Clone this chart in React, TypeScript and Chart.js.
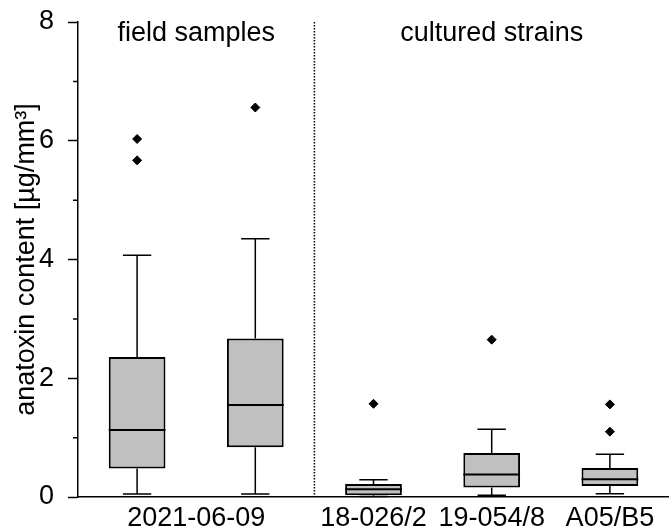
import React, { useEffect, useRef } from 'react';
import { Chart, registerables } from 'chart.js';

Chart.register(...registerables);

// ---- data ----
const categories = ['2021-06-09', '18-026/2', '19-054/8', 'A05/B5'];
const categoryTickPositions = [0.5, 2, 3, 4];
const boxPositions = [0, 1, 2, 3, 4];
const mins = [0.05, 0.05, 0.01, 0.03, 0.055];
const q1s = [0.48, 0.84, 0.03, 0.16, 0.185];
const medians = [1.13, 1.55, 0.13, 0.38, 0.3];
const q3s = [2.36, 2.67, 0.22, 0.74, 0.49];
const maxs = [4.07, 4.35, 0.29, 1.14, 0.72];
const outliers = [[5.67, 6.03], [6.56], [1.57], [2.65], [1.1, 1.56]];
const groupLabels = ['field samples', 'cultured strains'];
const groupPositions = [0.5, 3];
const dividerPosition = 1.5;
const yMin = 0;
const yMax = 8;
const yTitle = 'anatoxin content [µg/mm³]';

const FONT_FAMILY = '"Liberation Sans", Arial, Helvetica, sans-serif';
const FONT_SIZE = 27;

const boxExtras = {
  id: 'boxExtras',
  afterDatasetsDraw(chart: any) {
    const { ctx, chartArea, scales } = chart;
    const x = scales.x;
    const y = scales.y;
    const meta = chart.getDatasetMeta(0);
    ctx.save();
    ctx.strokeStyle = '#000';
    boxPositions.forEach((p, i) => {
      const cx = x.getPixelForValue(p);
      const el = meta.data[i];
      const w = el ? el.width : 56;
      const cap = w / 2;
      ctx.lineWidth = 1.5;
      ctx.beginPath();
      ctx.moveTo(cx, y.getPixelForValue(q3s[i]));
      ctx.lineTo(cx, y.getPixelForValue(maxs[i]));
      ctx.moveTo(cx - cap / 2, y.getPixelForValue(maxs[i]));
      ctx.lineTo(cx + cap / 2, y.getPixelForValue(maxs[i]));
      ctx.moveTo(cx, y.getPixelForValue(q1s[i]));
      ctx.lineTo(cx, y.getPixelForValue(mins[i]));
      ctx.moveTo(cx - cap / 2, y.getPixelForValue(mins[i]));
      ctx.lineTo(cx + cap / 2, y.getPixelForValue(mins[i]));
      ctx.stroke();
      ctx.lineWidth = 2;
      ctx.beginPath();
      ctx.moveTo(cx - w / 2, y.getPixelForValue(medians[i]));
      ctx.lineTo(cx + w / 2, y.getPixelForValue(medians[i]));
      ctx.stroke();
    });
    // divider
    const dx = x.getPixelForValue(dividerPosition);
    ctx.lineWidth = 1.5;
    ctx.setLineDash([1.5, 1.5]);
    ctx.beginPath();
    ctx.moveTo(dx, chartArea.top);
    ctx.lineTo(dx, chartArea.bottom);
    ctx.stroke();
    ctx.setLineDash([]);
    // minor y ticks
    ctx.lineWidth = 1.5;
    ctx.beginPath();
    for (let v = yMin + 1; v < yMax; v += 2) {
      const py = y.getPixelForValue(v);
      ctx.moveTo(chartArea.left - 5, py);
      ctx.lineTo(chartArea.left, py);
    }
    ctx.stroke();
    // group labels
    ctx.fillStyle = '#000';
    ctx.font = `${FONT_SIZE}px ${FONT_FAMILY}`;
    ctx.textAlign = 'center';
    ctx.textBaseline = 'middle';
    groupLabels.forEach((t, i) => {
      ctx.fillText(t, x.getPixelForValue(groupPositions[i]), chartArea.top + 12);
    });
    ctx.restore();
  },
};

export default function App() {
  const ref = useRef<HTMLCanvasElement | null>(null);
  useEffect(() => {
    document.body.style.margin = '0';
    if (!ref.current) return;
    const font = { family: FONT_FAMILY, size: FONT_SIZE };
    const chart = new Chart(ref.current, {
      type: 'bar',
      data: {
        datasets: [
          {
            type: 'bar',
            data: boxPositions.map((p, i) => ({ x: p, y: [q1s[i], q3s[i]] })) as any,
            backgroundColor: '#c0c0c0',
            borderColor: '#000',
            borderWidth: 2,
            borderSkipped: false,
            barPercentage: 0.48,
            categoryPercentage: 1,
          } as any,
          {
            type: 'scatter',
            data: outliers.flatMap((arr, i) => arr.map((v) => ({ x: boxPositions[i], y: v }))),
            pointStyle: 'rectRot',
            radius: 4.5,
            backgroundColor: '#000',
            borderColor: '#000',
            borderWidth: 1,
          } as any,
        ],
      },
      options: {
        animation: false,
        responsive: false,
        maintainAspectRatio: false,
        events: [],
        layout: { autoPadding: false, padding: { top: 22, right: 0, left: 0, bottom: 0 } },
        plugins: { legend: { display: false }, tooltip: { enabled: false } },
        scales: {
          x: {
            type: 'linear',
            offset: false,
            min: -0.5,
            max: 4.5,
            afterBuildTicks: (s: any) => {
              s.ticks = categoryTickPositions.map((v) => ({ value: v }));
            },
            afterFit: (s: any) => {
              s.height = 33;
              s.paddingLeft = 0;
              s.paddingRight = 0;
            },
            ticks: {
              autoSkip: false,
              maxRotation: 0,
              color: '#000',
              font,
              padding: 5,
              callback: (_v: any, i: number) => categories[i],
            },
            grid: { display: false, drawTicks: false, offset: false },
            border: { display: true, color: '#000', width: 1.5 },
          },
          y: {
            min: yMin,
            max: yMax,
            afterFit: (s: any) => {
              s.width = 78;
              s.paddingTop = 0;
              s.paddingBottom = 0;
            },
            ticks: {
              stepSize: 1,
              color: '#000',
              font,
              padding: 14,
              callback: (v: any) => (Number(v) % 2 === 0 ? String(v) : ''),
            },
            grid: {
              drawOnChartArea: false,
              tickLength: 10,
              tickWidth: 1.5,
              tickColor: (c: any) => (c.tick && c.tick.value % 2 === 0 ? '#000' : 'rgba(0,0,0,0)'),
            },
            border: { display: true, color: '#000', width: 1.5 },
            title: { display: true, text: yTitle, color: '#000', font, padding: { top: 10, bottom: 0 } },
          },
        },
      },
      plugins: [boxExtras],
    });
    return () => chart.destroy();
  }, []);
  return (
    <div style={{ width: 669, height: 530 }}>
      <canvas ref={ref} width={669} height={530} />
    </div>
  );
}
